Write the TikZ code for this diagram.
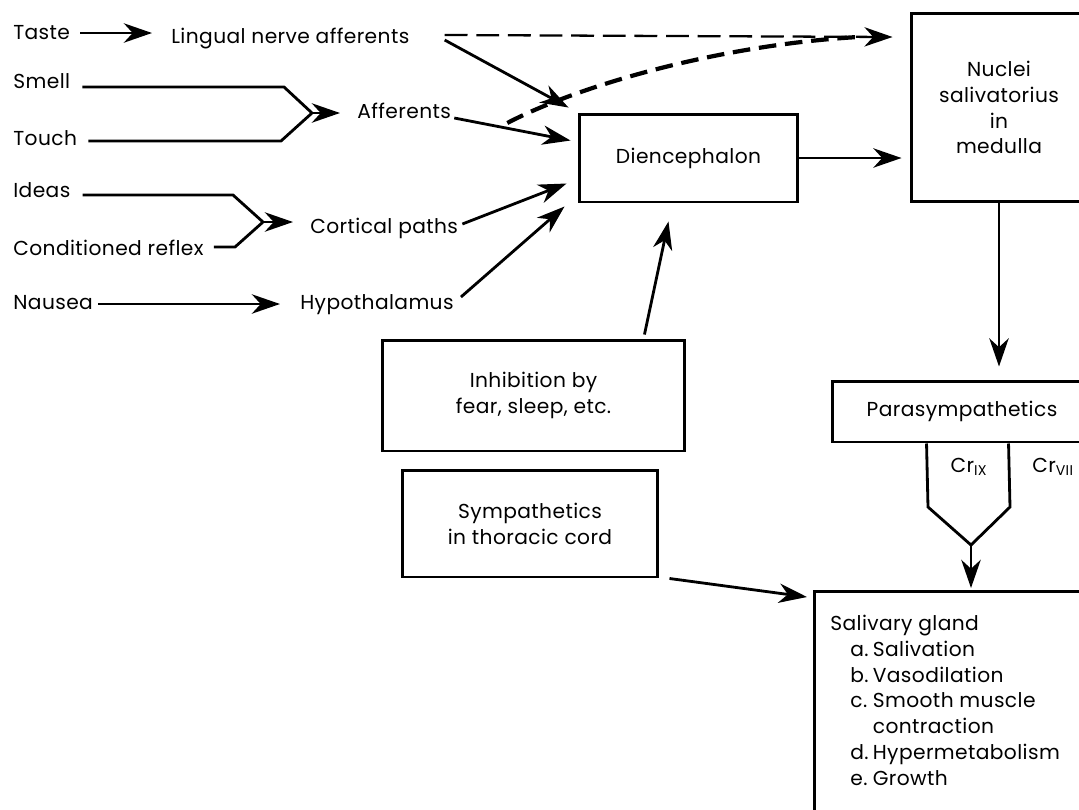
\documentclass[tikz,border=0pt]{standalone}
\usepackage{fontspec}
\setmainfont{Poppins}[LetterSpace=2]
\usetikzlibrary{arrows.meta,calc}
\tikzset{
  lbl/.style={inner sep=0pt, font=\fontsize{11.5pt}{14.7pt}\selectfont},
  box/.style={draw, line width=1.7pt, align=center, font=\fontsize{11.5pt}{14.7pt}\selectfont},
  wire/.style={line width=1.6pt},
  arr/.style={line width=1.6pt, -{Stealth[length=16pt,width=11pt,inset=5pt]}},
  dashline/.style={line width=1.3pt, dash pattern=on 13pt off 5pt},
  dashcurve/.style={line width=2.4pt, dash pattern=on 10pt off 5pt}
}
\begin{document}
\begin{tikzpicture}[x=0.02cm, y=-0.02cm]
  \clip (0,0) rectangle (1079,809);
  \node[lbl, anchor=base west] (taste) at (13,39) {Taste};
  \node[lbl, anchor=base west] (lingual) at (171,43) {Lingual nerve afferents};
  \node[lbl, anchor=base west] (smell) at (13,88) {Smell};
  \node[lbl, anchor=base west] (touch) at (13,145) {Touch};
  \node[lbl, anchor=base west] (afferents) at (357,118) {Afferents};
  \node[lbl, anchor=base west] (ideas) at (13,197) {Ideas};
  \node[lbl, anchor=base west] (condref) at (13,255) {Conditioned reflex};
  \node[lbl, anchor=base west] (cortical) at (310,233) {Cortical paths};
  \node[lbl, anchor=base west] (nausea) at (13,309) {Nausea};
  \node[lbl, anchor=base west] (hypoth) at (300,309) {Hypothalamus};

  \node[box, minimum width=4.38cm, minimum height=1.76cm] (dien) at (688.5,158) {Diencephalon};
  \node[box, minimum width=3.52cm, minimum height=3.78cm] (nuclei) at (999,107.5) {Nuclei\\salivatorius\\in\\medulla};
  \node[box, minimum width=6.06cm, minimum height=2.22cm] (inhib) at (533.5,395.5) {Inhibition by\\fear, sleep, etc.};
  \node[box, minimum width=5.12cm, minimum height=2.14cm] (symp) at (530,523.5) {Sympathetics\\in thoracic cord};
  \node[box, minimum width=5.2cm, minimum height=1.22cm] (para) at (962,411.5) {Parasympathetics};
  \node[box, anchor=north west, minimum width=6cm, minimum height=5cm] (gland) at (813,590) {};
  \node[lbl, anchor=north west] (glandtext) at (830,612) {%
    \begin{tabular}{@{}p{0.4cm}@{}p{0.45cm}@{}l@{}}
      \multicolumn{3}{@{}l@{}}{Salivary gland}\\
      & a. & Salivation\\
      & b. & Vasodilation\\
      & c. & Smooth muscle\\
      & & contraction\\
      & d. & Hypermetabolism\\
      & e. & Growth
    \end{tabular}};
  \node[lbl] (crix) at (969,467) {Cr\textsubscript{IX}};
  \node[lbl, anchor=west] (crvii) at (1032,467) {Cr\textsubscript{VII}};

  \coordinate (smjoin) at (312,113);
  \coordinate (idjoin) at (263,222);
  \coordinate (dashjoin) at (858,37);
  \coordinate (crjoin) at (971,545);

  \draw[arr] ($(taste.base east)+(10,-6)$) -- ($(lingual.base west)+(-19,-10)$);
  \draw[wire] ($(smell.base east)+(12,-1)$) -- ($(smjoin)+(-28,-26)$) -- (smjoin);
  \draw[wire] ($(touch.base east)+(11,-4)$) -- ($(smjoin)+(-31,28)$) -- (smjoin);
  \draw[arr] (smjoin) -- ($(afferents.west |- smjoin)+(-17,0)$);
  \draw[wire] ($(ideas.base east)+(12,-2)$) -- ($(idjoin)+(-30,-27)$) -- (idjoin);
  \draw[wire] ($(condref.base east)+(10,-8)$) -- ($(idjoin)+(-28,25)$) -- (idjoin);
  \draw[arr] (idjoin) -- ($(cortical.west |- idjoin)+(-17,0)$);
  \draw[arr] ($(nausea.base east)+(5,-5)$) -- ($(hypoth.base west)+(-20,-5)$);

  \draw[arr] ($(lingual.base east)+(35,-3)$) -- ($(dien.north west)+(-9,-5)$);
  \draw[arr] ($(afferents.base east)+(3,0)$) -- ($(dien.north west)+(-7,28)$);
  \draw[arr] ($(cortical.base east)+(4,-9)$) -- ($(dien.north west)+(-11,71)$);
  \draw[arr] ($(hypoth.base east)+(7,-12)$) -- ($(dien.north west)+(-13,94)$);
  \draw[dashline, -{Stealth[length=16pt,width=11pt,inset=5pt]}] ($(lingual.base east)+(35,-8)$) -- ($(nuclei.west |- dashjoin)+(-17,0)$);
  \draw[dashcurve] ($(afferents.base east)+(56,5)$) .. controls (580,85) and (720,45) .. (dashjoin);

  \draw[arr] (dien.east) -- ($(nuclei.west |- dien.east)+(-8,0)$);
  \draw[arr] (nuclei.south) -- ($(nuclei.south |- para.north)+(0,-13)$);
  \draw[wire] ($(para.south west)+(96,0)$) -- ($(crjoin)+(-43,-38)$) -- (crjoin) -- ($(crjoin)+(39,-38)$) -- ($(para.south west)+(178,0)$);
  \draw[arr] (crjoin) -- ($(gland.north west -| crjoin)+(0,-2)$);
  \draw[arr] ($(inhib.north east)+(-42,-4)$) -- ($(dien.south)+(-20,18)$);
  \draw[arr] ($(symp.south east)+(10,0)$) -- ($(gland.north west)+(-6,7)$);
\end{tikzpicture}
\end{document}
